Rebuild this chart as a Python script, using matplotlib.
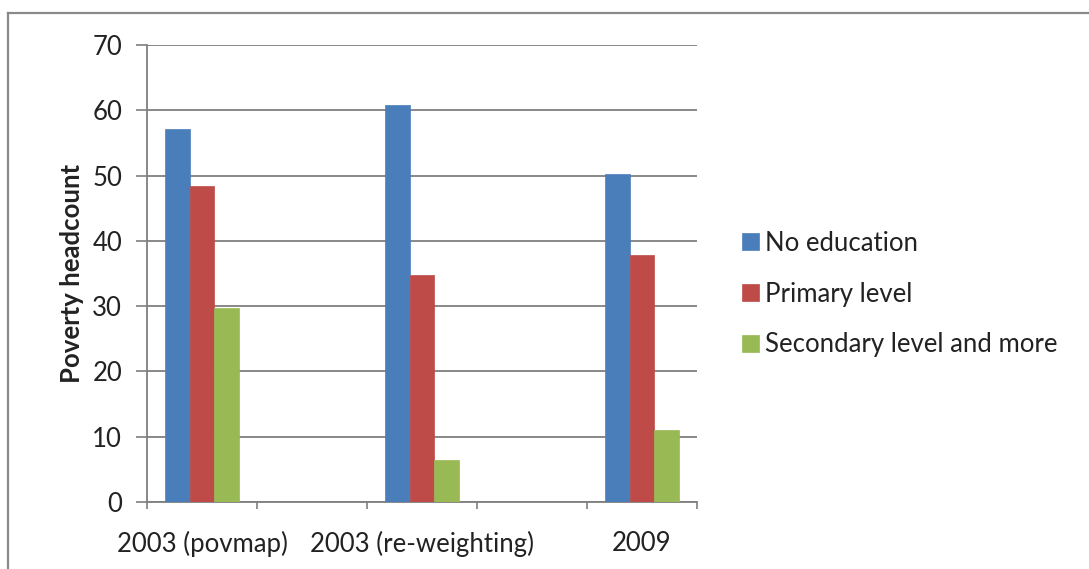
import numpy as np
import matplotlib.pyplot as plt
from matplotlib.lines import Line2D

plt.rcParams['font.family'] = ['Lato', 'DejaVu Sans']

# five category slots, only every other one is labelled and filled
categories = ["2003 (povmap)", "", "2003 (re-weighting)", "", "2009"]
series = ["No education", "Primary level", "Secondary level and more"]
no_education = [57.1, np.nan, 60.8, np.nan, 50.3]
primary = [48.4, np.nan, 34.8, np.nan, 37.8]
secondary = [29.7, np.nan, 6.4, np.nan, 11.0]
colors = ["#4a7ebb", "#be4b48", "#98b954"]

fs = 18.5
fig = plt.figure(figsize=(10.89, 5.69), dpi=100)
ax = fig.add_axes([0.135, 0.1178, 0.505, 0.8031])

x = np.arange(len(categories))
w = 0.222
for i, (vals, c, name) in enumerate(zip([no_education, primary, secondary], colors, series)):
    ax.bar(x + (i - 1) * w, vals, w, color=c, edgecolor=c, linewidth=0.5,
           label=name, zorder=3)

ax.set_xlim(-0.5, len(categories) - 0.5)
ax.set_ylim(0, 70)
ax.set_yticks(range(0, 71, 10))
ax.yaxis.grid(True, color="#7f7f7f", linewidth=1.3, zorder=0)

ax.set_xticks(x)
ax.set_xticklabels(categories)
ax.set_xticks(np.arange(-0.5, len(categories), 1), minor=True)
ax.tick_params(axis="x", which="major", length=0, pad=21, labelsize=fs, colors="#222222")
ax.tick_params(axis="x", which="minor", length=5, width=1.2, color="#7f7f7f")
ax.tick_params(axis="y", length=8, width=1.2, color="#7f7f7f", pad=10,
               labelsize=fs, labelcolor="#222222")

for side in ["top", "right"]:
    ax.spines[side].set_visible(False)
for side in ["left", "bottom"]:
    ax.spines[side].set_color("#7f7f7f")
    ax.spines[side].set_linewidth(1.3)

ax.set_ylabel("Poverty headcount", fontsize=fs, fontweight="bold", color="#222222",
              labelpad=6)

ax.legend(loc="center left", bbox_to_anchor=(1.04, 0.455), frameon=False,
          fontsize=fs, handlelength=0.65, handleheight=0.65, handletextpad=0.25,
          labelspacing=1.0, labelcolor="#222222")

# outer chart frame
fig.add_artist(Line2D([8 / 1089, 1], [1 - 13 / 569] * 2, transform=fig.transFigure,
                      color="#8a8a8a", linewidth=1.6))
fig.add_artist(Line2D([8 / 1089] * 2, [0, 1 - 13 / 569], transform=fig.transFigure,
                      color="#8a8a8a", linewidth=1.6))

fig.savefig("out.png", dpi=100)
